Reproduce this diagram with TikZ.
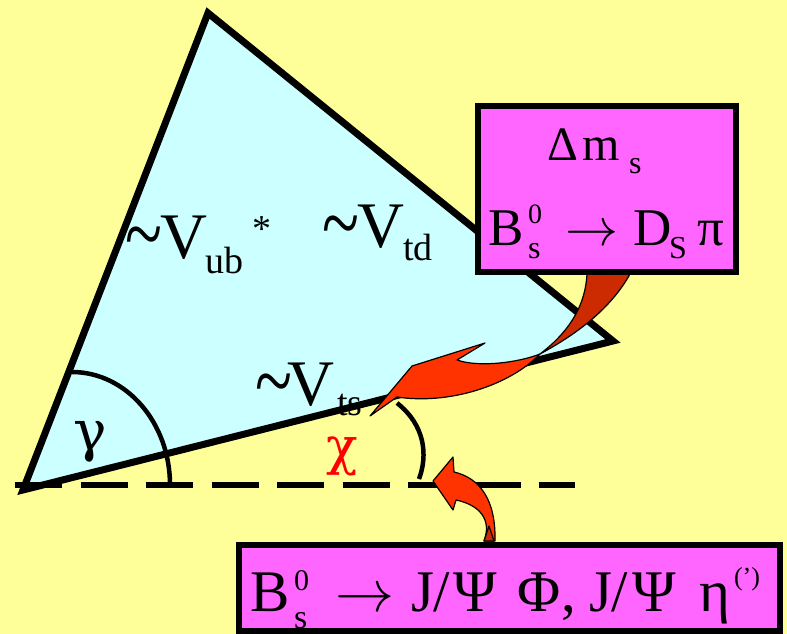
\RequirePackage{fix-cm}
\documentclass[tikz,border=0pt]{standalone}
\usepackage{fontspec}
\setmainfont{Liberation Serif}
\newfontfamily\grk{DejaVu Serif}
\usepackage{graphicx}
\definecolor{bgyellow}{HTML}{FFFF99}
\definecolor{tricyan}{HTML}{CCFFFF}
\definecolor{boxpink}{HTML}{FF66FF}
\definecolor{arrowor}{HTML}{FF3300}
\definecolor{arrowdark}{HTML}{CC2A00}
\newcommand{\pc}[2]{\makebox[#1pt][l]{#2}}
\newcommand{\fs}[1]{\fontsize{#1}{#1}\selectfont}
\newcommand{\tld}{\raisebox{-6pt}{\scalebox{1.05}[1.4]{\textasciitilde}}}
\begin{document}
\begin{tikzpicture}[x=1pt,y=-1pt,
  lbl/.style={inner sep=0pt, outer sep=0pt},
  pinkbox/.style={draw=black, fill=boxpink, line width=6pt, inner sep=0pt, outer sep=0pt},
  arrowshape/.style={fill=arrowor, draw=black, line width=1.2pt, line join=round},
  arrowback/.style={fill=arrowdark, draw=black, line width=1.2pt, line join=round},
  anglearc/.style={draw=black, line width=4.5pt}]
\useasboundingbox (0,0) rectangle (787,634);
\fill[bgyellow] (0,0) rectangle (787,634);
% triangle
\coordinate (L) at (23,490);
\coordinate (Tp) at (208,13);
\coordinate (R) at (613,341);
\fill[tricyan] (L) -- (Tp) -- (R) -- cycle;
\node[lbl, anchor=base west] (vub) at (125,258) {\fs{65}\pc{35}{\tld}\pc{45}{V}\raisebox{-15pt}{\fs{38}\pc{47}{ub}}\raisebox{17pt}{\fs{38}*}};
\node[lbl, anchor=base west] (vtd) at (322,247) {\fs{65}\pc{35}{\tld}\pc{46}{V}\raisebox{-13pt}{\fs{38}td}};
\node[lbl, anchor=base west] (vts) at (255,405) {\fs{65}\pc{32}{\tld}\pc{50}{V}\raisebox{-10pt}{\fs{38}ts}};
\draw[line width=7pt] (L) -- (Tp) -- (R) -- cycle;
% dashed base line
\coordinate (d0) at (15,485);
\coordinate (d1) at (575,485);
\draw[line width=5.5pt, dash pattern=on 47pt off 18.5pt] (d0) -- (d1);
% gamma angle
\coordinate (g0) at (170,485);
\draw[anglearc] (g0) arc[start angle=0, end angle=-90, x radius=98, y radius=113];
\node[lbl] (gam) at (90,442) {\grk\fs{56}γ};
% chi angle
\coordinate (c0) at (397,403);
\coordinate (c1) at (419,479);
\draw[anglearc] (c0) .. controls (425,425) and (428,455) .. (c1);
\node[lbl, text=red] (chi) at (342,456) {\grk\fs{52}χ};
% curved arrow from upper box
\coordinate (tw) at (540,354);
\draw[arrowback] (587,274) .. controls (585,310) and (565,335) .. (tw) .. controls (575,335) and (610,310) .. (630,274) -- cycle;
\draw[arrowshape] (tw) .. controls (520,362) and (480,368) .. (457,360) -- (485,343) -- (412,366) -- (370,416) -- (397,397) .. controls (450,405) and (510,385) .. (tw) -- cycle;
% curved arrow from lower box
\draw[arrowshape] (433,481) -- (453,457) -- (454,472) .. controls (480,478) and (496,500) .. (495,541) -- (484,541) .. controls (492,520) and (480,505) .. (456,500) -- (453,510) -- cycle;
\draw[arrowback] (484,541) -- (489,526) -- (494,541) -- cycle;
% upper box
\node[pinkbox, minimum width=258pt, minimum height=166pt] (box1) at (607,189) {};
\node[lbl, anchor=base west] (b1a) at (547,160) {\fs{48}\pc{36}{Δ}\pc{46}{m}\raisebox{-13pt}{\fs{32}s}};
\node[lbl, anchor=base west] (b1b) at (488,245) {\fs{53}\pc{40}{B}\pc{37}{\makebox[0pt][l]{\raisebox{22pt}{\fs{28}0}}\raisebox{-13pt}{\fs{32}s}}\pc{68}{$\rightarrow$}\pc{36}{D}\pc{28}{\raisebox{-13pt}{\fs{32}S}}π};
% lower box
\node[pinkbox, minimum width=541pt, minimum height=86pt] (box2) at (509.5,588) {};
\node[lbl, anchor=base west] (b2) at (250,611) {\fs{59}\pc{44}{B}\pc{41}{\makebox[0pt][l]{\raisebox{21pt}{\fs{30}0}}\raisebox{-17pt}{\fs{34}s}}\pc{76}{$\rightarrow$}\pc{22}{J}\pc{21}{/}\pc{64}{Ψ}\pc{43}{Φ}\pc{28}{,}\pc{23}{J}\pc{20}{/}\pc{68}{Ψ}\pc{34}{η}\raisebox{26pt}{\fs{26}(')}};
\end{tikzpicture}
\end{document}
